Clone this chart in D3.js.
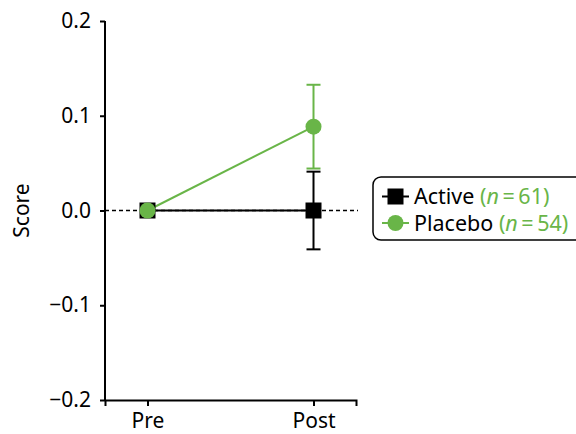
<!DOCTYPE html>
<html>
<head>
<meta charset="utf-8">
<script src="https://cdn.jsdelivr.net/npm/d3@7"></script>
<style>
  html, body { margin: 0; padding: 0; background: #fff; }
  svg { display: block; font-family: "Noto Sans", sans-serif; }
</style>
</head>
<body>
<svg id="chart" width="576" height="434"></svg>
<script>
const categories = ["Pre", "Post"];
const yTicks = [-0.2, -0.1, 0.0, 0.1, 0.2];
const activeMean = [0.0, 0.0];
const activeErr = [0.0, 0.041];
const placeboMean = [0.0, 0.0885];
const placeboErr = [0.0, 0.0442];
const seriesNames = ["Active", "Placebo"];
const seriesN = [61, 54];
const yLabel = "Score";

const black = "#000";
const green = "#69b548";
const FS = "21px";

const svg = d3.select("#chart");
const x = d3.scalePoint().domain(categories).range([105, 356]).padding(0.256);
const y = d3.scaleLinear().domain([-0.2, 0.2]).range([400, 21]);

// zero reference line
svg.append("line")
  .attr("x1", x.range()[0]).attr("x2", 358)
  .attr("y1", y(0)).attr("y2", y(0))
  .attr("stroke", black).attr("stroke-width", 1.5)
  .attr("stroke-dasharray", "4,3");

// axes
const yAxis = d3.axisLeft(y).tickValues(yTicks).tickFormat(d3.format(".1f")).tickSizeOuter(0).tickSize(5).tickPadding(9);
const gy = svg.append("g").attr("transform", "translate(105,0)").call(yAxis);
const xAxis = d3.axisBottom(x).tickSizeOuter(0).tickSize(6).tickPadding(4);
const gx = svg.append("g").attr("transform", `translate(0,${y(-0.2)})`).call(xAxis);
[gx, gy].forEach(g => {
  g.select(".domain").attr("stroke", black).attr("stroke-width", 2);
  g.selectAll(".tick line").attr("stroke", black).attr("stroke-width", 2);
  g.selectAll(".tick text").attr("fill", black).style("font-size", FS).style("font-family", "Noto Sans, sans-serif");
});
gx.selectAll(".tick text").attr("dy", "0.85em");
gy.select(".domain").attr("d", `M0,${y(-0.2)}V${y(0.2)}`);

svg.append("text")
  .attr("transform", `translate(29,${y(0)}) rotate(-90)`)
  .attr("text-anchor", "middle")
  .style("font-size", FS)
  .text(yLabel);

function drawSeries(means, errs, color) {
  const pts = categories.map((c, i) => ({ c, m: means[i], e: errs[i] }));
  svg.append("path")
    .datum(pts)
    .attr("fill", "none").attr("stroke", color).attr("stroke-width", 2)
    .attr("d", d3.line().x(d => x(d.c)).y(d => y(d.m)));
  const eb = svg.append("g");
  pts.filter(d => d.e > 0).forEach(d => {
    const cx = x(d.c);
    eb.append("line").attr("x1", cx).attr("x2", cx).attr("y1", y(d.m + d.e)).attr("y2", y(d.m - d.e))
      .attr("stroke", color).attr("stroke-width", 2);
    [d.m + d.e, d.m - d.e].forEach(v => {
      eb.append("line").attr("x1", cx - 7).attr("x2", cx + 7).attr("y1", y(v)).attr("y2", y(v))
        .attr("stroke", color).attr("stroke-width", 2);
    });
  });
  return pts;
}

function marker(g, cx, cy, color, shape) {
  if (shape === "square") {
    g.append("rect").attr("x", cx - 8).attr("y", cy - 8).attr("width", 16).attr("height", 16).attr("fill", color);
  } else {
    g.append("circle").attr("cx", cx).attr("cy", cy).attr("r", 8).attr("fill", color);
  }
}

const aPts = drawSeries(activeMean, activeErr, black);
const pPts = drawSeries(placeboMean, placeboErr, green);
const mk = svg.append("g");
aPts.forEach(d => marker(mk, x(d.c), y(d.m), black, "square"));
pPts.forEach(d => marker(mk, x(d.c), y(d.m), green, "circle"));

// legend
const lg = svg.append("g");
lg.append("rect").attr("x", 373).attr("y", 177).attr("width", 230).attr("height", 63)
  .attr("rx", 8).attr("fill", "#fff").attr("stroke", black).attr("stroke-width", 1.5);
const rows = [
  { name: seriesNames[0], n: seriesN[0], color: black, shape: "square", cy: 196.5 },
  { name: seriesNames[1], n: seriesN[1], color: green, shape: "circle", cy: 223 }
];
rows.forEach(r => {
  lg.append("line").attr("x1", 382).attr("x2", 409).attr("y1", r.cy).attr("y2", r.cy)
    .attr("stroke", r.color).attr("stroke-width", 2);
  marker(lg, 395.5, r.cy, r.color, r.shape);
  const t = lg.append("text").attr("x", 414).attr("y", r.cy + 7.5).style("font-size", "21.5px").attr("fill", black);
  t.append("tspan").text(r.name + " ");
  const g2 = t.append("tspan").attr("fill", green);
  g2.append("tspan").text("(");
  g2.append("tspan").style("font-style", "italic").text("n");
  g2.append("tspan").text("\u2009=\u2009" + r.n + ")");
});
</script>
</body>
</html>
